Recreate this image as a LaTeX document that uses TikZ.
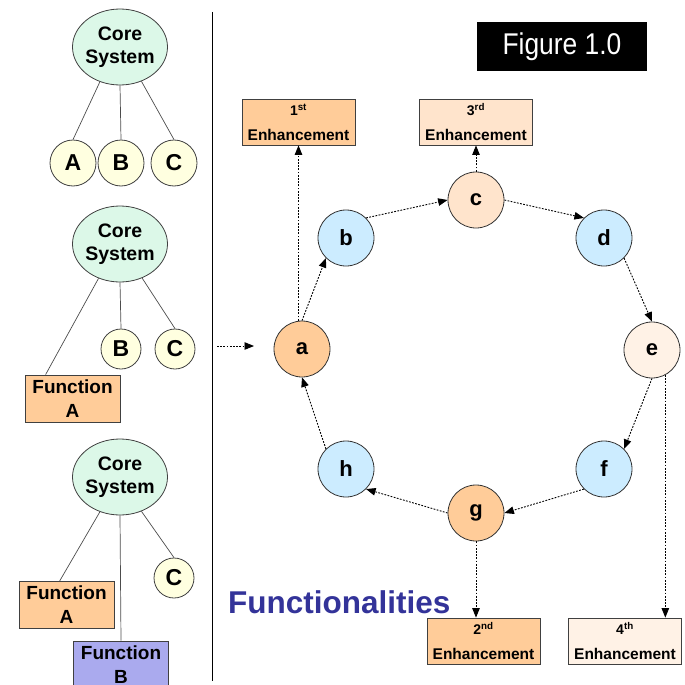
\documentclass[tikz,border=0pt]{standalone}
\usepackage{fontspec}
\setmainfont{Liberation Sans}
\newfontfamily\narrowfont[FakeStretch=0.88]{Liberation Sans}
\usetikzlibrary{positioning, arrows.meta, shapes.geometric}

\definecolor{coregreen}{RGB}{220,248,232}
\definecolor{unityellow}{RGB}{255,255,224}
\definecolor{funcorange}{RGB}{255,204,153}
\definecolor{funcviolet}{RGB}{170,170,238}
\definecolor{stageblue}{RGB}{204,236,255}
\definecolor{stagepeach}{RGB}{255,228,204}
\definecolor{stagecream}{RGB}{255,242,230}
\definecolor{titleblue}{RGB}{51,51,153}

\begin{document}
\begin{tikzpicture}[
        x=1pt, y=-1pt,
        >={Triangle[length=9.5pt,width=7.5pt]},
        every node/.style={align=center, inner sep=0pt},
        core/.style={ellipse, draw=black!75, line width=0.8pt, fill=coregreen, inner xsep=-5pt, minimum width=95pt, minimum height=76pt, font=\fontsize{19.5}{22.5}\selectfont\bfseries},
        unit/.style={circle, draw=black!75, line width=0.8pt, fill=unityellow, minimum size=40pt, font=\fontsize{23}{23}\selectfont\bfseries},
        funcbox/.style={rectangle, draw=black!75, line width=0.8pt, minimum width=95pt, minimum height=47pt, font=\fontsize{19}{24}\selectfont\bfseries},
        stagenode/.style={circle, draw=black!80, line width=0.8pt, minimum size=56pt, font=\fontsize{22}{22}\selectfont\bfseries},
        enhbox/.style={rectangle, draw=black!75, line width=0.8pt, minimum width=113pt, minimum height=46pt, font=\fontsize{15.5}{25}\selectfont\bfseries},
        branch/.style={draw=black!70, line width=0.7pt},
        flow/.style={->, line width=0.9pt, dash pattern=on 1.8pt off 1.4pt}
    ]
        \useasboundingbox (0,0) rectangle (685,685);

        \node[core] (core1) at (120,47) {Core\\System};
        \node[unit, minimum size=46pt] (unitA1) at (73,163) {A};
        \node[unit, minimum size=46pt] (unitB1) at (121,163) {B};
        \node[unit, minimum size=46pt] (unitC1) at (174,163) {C};

        \node[core] (core2) at (120,244) {Core\\System};
        \node[unit] (unitB2) at (121,349) {B};
        \node[unit] (unitC2) at (175,349) {C};
        \node[funcbox, fill=funcorange] (funcA2) at (72.5,398.5) {Function\\A};

        \node[core] (core3) at (120,477) {Core\\System};
        \node[unit] (unitC3) at (174,578) {C};
        \node[funcbox, fill=funcorange] (funcA3) at (66.5,605) {Function\\A};
        \node[funcbox, fill=funcviolet] (funcB3) at (121,664.5) {Function\\B};

        \draw[branch] (core1.240) -- (unitA1.north);
        \draw[branch] (core1.south) -- (unitB1.north);
        \draw[branch] (core1.302) -- (unitC1.north);
        \draw[branch] (core2.238) -- ([xshift=21pt]funcA2.north west);
        \draw[branch] (core2.south) -- (unitB2.north);
        \draw[branch] (core2.303) -- (unitC2.north);
        \draw[branch] (core3.240) -- ([xshift=41pt]funcA3.north west);
        \draw[branch] (core3.south) -- (funcB3.north);
        \draw[branch] (core3.302) -- (unitC3.north);

        \draw[line width=1pt] (212,12) -- (212,681);

        \node[fill=black, minimum width=170pt, minimum height=49pt, text=white, font=\narrowfont\fontsize{30}{30}\selectfont] (figlabel) at (562,46.5) {Figure 1.0};

        \node[stagenode, fill=funcorange] (a) at (302,349) {a};
        \node[stagenode, fill=stageblue] (b) at (346,238) {b};
        \node[stagenode, fill=stagepeach] (c) at (476,200) {c};
        \node[stagenode, fill=stageblue] (d) at (604,238) {d};
        \node[stagenode, fill=stagecream] (e) at (652,350) {e};
        \node[stagenode, fill=stageblue] (f) at (604,469) {f};
        \node[stagenode, fill=funcorange] (g) at (476,513) {g};
        \node[stagenode, fill=stageblue] (h) at (346,469) {h};

        \node[enhbox, fill=funcorange] (enh1) at (298.5,122) {{\fontsize{14}{25}\selectfont 1\textsuperscript{st}}\\Enhancement};
        \node[enhbox, fill=stagepeach] (enh3) at (476,122) {{\fontsize{14}{25}\selectfont 3\textsuperscript{rd}}\\Enhancement};
        \node[enhbox, fill=funcorange] (enh2) at (483.5,641) {{\fontsize{14}{25}\selectfont 2\textsuperscript{nd}}\\Enhancement};
        \node[enhbox, fill=stagecream] (enh4) at (625,641) {{\fontsize{14}{25}\selectfont 4\textsuperscript{th}}\\Enhancement};

        \node[anchor=base west, text=titleblue, font=\fontsize{31.5}{31.5}\selectfont\bfseries] (title) at (228,613) {Functionalities};

        \coordinate (feedin) at (217,346);
        \coordinate (feedout) at (254,346);
        \draw[flow] (feedin) -- (feedout);

        \draw[flow] (a.north) -- (b.south west);
        \draw[flow] (b.north east) -- (c.west);
        \draw[flow] (c.east) -- (d.north west);
        \draw[flow] (d.south east) -- (e.north);
        \draw[flow] (e.south) -- (f.north east);
        \draw[flow] (f.south west) -- (g.east);
        \draw[flow] (g.west) -- (h.south east);
        \draw[flow] (h.north west) -- (a.south);

        \draw[flow] (enh1.south |- a.north) -- (enh1.south);
        \draw[flow] (c.north) -- (enh3.south);
        \draw[flow] (g.south) -- (g.south |- enh2.north);
        \draw[flow] (e.-62) -- (e.-62 |- enh4.north);
    \end{tikzpicture}
\end{document}
